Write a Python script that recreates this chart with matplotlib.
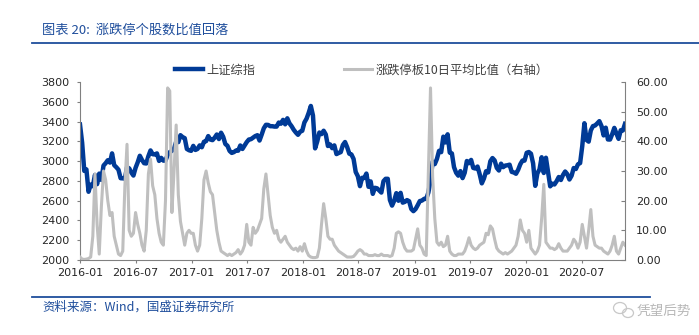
import matplotlib
matplotlib.use('Agg')
import matplotlib.pyplot as plt
import matplotlib.ticker as mticker
from matplotlib.lines import Line2D
from matplotlib.patches import Ellipse
import pandas as pd

plt.rcParams['font.family'] = ['DejaVu Sans']
CJK = ['Noto Sans CJK SC', 'DejaVu Sans']

BLUE = '#003A96'
GRAY = '#BFBFBF'
TBLUE = '#1F4E9C'

# weekly closes of the SSE Composite, one list per year
sse_2016 = [3370, 3186, 2901, 2916, 2690, 2763, 2746, 2860, 2767, 2874,
            2810, 2955, 2979, 3009, 2985, 3078, 2959, 2938, 2913, 2827,
            2826, 2822, 2938, 2927, 2885, 2854, 2932, 2988, 3054, 3012,
            2979, 2976, 3050, 3108, 3070, 3067, 3078, 3002, 3033, 3005,
            3005, 3063, 3091, 3104, 3125, 3196, 3192, 3262, 3243, 3232,
            3123, 3110, 3104]
sse_2017 = [3154, 3113, 3123, 3159, 3140, 3196, 3202, 3253, 3218, 3212,
            3237, 3269, 3223, 3287, 3246, 3173, 3155, 3103, 3083, 3091,
            3107, 3105, 3158, 3123, 3158, 3192, 3218, 3222, 3238, 3253,
            3262, 3208, 3268, 3332, 3367, 3366, 3353, 3353, 3349, 3349,
            3390, 3378, 3417, 3372, 3433, 3382, 3353, 3317, 3289, 3266,
            3297, 3307]
sse_2018 = [3391, 3429, 3488, 3558, 3462, 3129, 3199, 3289, 3273, 3307,
            3269, 3153, 3169, 3131, 3159, 3071, 3082, 3091, 3163, 3193,
            3141, 3075, 3067, 3022, 2890, 2847, 2747, 2831, 2829, 2874,
            2740, 2795, 2669, 2730, 2725, 2703, 2682, 2797, 2821, 2821,
            2607, 2550, 2599, 2676, 2599, 2679, 2580, 2588, 2606, 2594,
            2516, 2494]
sse_2019 = [2515, 2554, 2596, 2601, 2618, 2618, 2682, 2804, 2994, 2970,
            3022, 3104, 3091, 3247, 3189, 3271, 3086, 3078, 2939, 2882,
            2853, 2899, 2828, 2882, 3001, 2979, 3012, 2931, 2925, 2945,
            2868, 2775, 2824, 2898, 2886, 2999, 3031, 3007, 2932, 2905,
            2974, 2939, 2955, 2958, 2964, 2891, 2885, 2872, 2912, 2968,
            3005, 3005]
sse_2020 = [3084, 3092, 3075, 2977, 2750, 2876, 2917, 3039, 2880, 3034,
            2887, 2745, 2772, 2764, 2797, 2839, 2809, 2860, 2895, 2868,
            2814, 2852, 2930, 2920, 2968, 2980, 3152, 3383, 3214, 3197,
            3310, 3354, 3360, 3381, 3404, 3355, 3260, 3338, 3219, 3218,
            3272, 3336, 3278, 3225, 3312, 3310, 3377]

# limit-up / limit-down 10-day average ratio (right axis), same weeks
ratio_2016 = [1, 0.3, 0.2, 0.3, 0.5, 1, 8, 29, 12, 2,
              18, 30, 27, 20, 15, 16, 8, 5, 2, 1.5,
              3, 25, 39, 10, 8, 9, 16, 12, 9, 5,
              3, 10, 29, 34, 25, 22, 14, 9, 6, 5,
              20, 58, 57, 16, 30, 45.5, 22, 13, 9, 5,
              9, 10, 9]
ratio_2017 = [9, 5, 3, 5, 14, 27, 30, 26, 23, 22,
              16, 10, 6, 3, 2.5, 2, 1.5, 2, 1.5, 2,
              2.5, 3.5, 2, 3, 5, 12, 6, 5, 11, 9,
              10, 12, 14, 24, 29, 22, 15, 11, 9, 10,
              7, 6, 7, 8, 6, 5, 4, 3.5, 4, 3,
              4.5, 3]
ratio_2018 = [5.5, 3, 1.5, 1, 0.8, 0.8, 1, 4, 12, 19,
              14, 8, 7, 7, 5, 4, 3, 2.5, 2, 1.5,
              1, 1, 1, 1.2, 2, 3, 3.5, 3, 2, 2,
              1.5, 1.5, 1.5, 1.8, 1.5, 1.5, 2, 1.5, 1.5, 1.5,
              1.2, 1.5, 4, 9, 9.5, 9, 6, 4, 3, 3,
              3, 3.5]
ratio_2019 = [7, 10.5, 5, 4, 2, 1.5, 30, 58, 28, 14,
              6, 5, 6, 4.5, 5, 8, 3, 2, 1.5, 1.5,
              2, 2, 2, 3, 5, 7.5, 5, 4, 3.5, 4,
              5, 5.5, 6, 9, 8.5, 11.5, 10.5, 7, 4, 3,
              2.5, 2, 2.5, 2, 2.5, 3, 4, 5, 8, 13.5,
              10, 9]
ratio_2020 = [6, 10, 4, 3, 2, 3, 5, 14, 25.5, 6,
              5, 4, 4, 3.5, 4, 5.5, 4, 3, 3, 3,
              4, 5, 7, 6, 4, 6, 12, 8, 4, 10,
              17, 8, 5, 4.5, 4, 4, 3, 2.5, 2, 3,
              5, 8, 3, 2, 4, 6, 5]

tick_labels = ['2016-01', '2016-07', '2017-01', '2017-07', '2018-01',
               '2018-07', '2019-01', '2019-07', '2020-01', '2020-07']

sse = sse_2016 + sse_2017 + sse_2018 + sse_2019 + sse_2020
ratio = ratio_2016 + ratio_2017 + ratio_2018 + ratio_2019 + ratio_2020
dates = pd.date_range('2016-01-01', periods=len(sse), freq='7D')

fig = plt.figure(figsize=(6.99, 3.35), dpi=100)
ax = fig.add_axes([80 / 699, 1 - 260 / 335, 545 / 699, 178 / 335])
ax2 = ax.twinx()

l1, = ax.plot(dates, sse, color=BLUE, lw=3.2, label='上证综指')
l2, = ax2.plot(dates, ratio, color=GRAY, lw=2.2, label='涨跌停板10日平均比值（右轴）')

ax.set_xlim(dates[0], dates[-1])
ax.set_ylim(2000, 3800)
ax.set_yticks(range(2000, 3801, 200))
ax2.set_ylim(0, 60)
ax2.set_yticks(range(0, 61, 10))
ax2.yaxis.set_major_formatter(mticker.FormatStrFormatter('%.2f'))
ax.set_xticks(pd.to_datetime(tick_labels))
ax.set_xticklabels(tick_labels)

for a in (ax, ax2):
    a.spines['top'].set_visible(False)
    for s in a.spines.values():
        s.set_color('#808080')
        s.set_linewidth(0.8)
ax2.spines['left'].set_visible(False)
ax2.spines['bottom'].set_visible(False)
ax.spines['right'].set_visible(False)

ax.tick_params(axis='y', direction='out', length=2, width=0.8, color='#808080',
               labelsize=8, labelcolor='#262626', pad=6)
ax.tick_params(axis='x', direction='out', length=2, width=0.8, color='#808080',
               labelsize=8, labelcolor='#262626', pad=4)
ax2.tick_params(axis='y', direction='in', length=3, width=0.8, color='#808080',
                labelsize=8, labelcolor='#262626', pad=8)

leg = fig.legend(handles=[l1, l2], loc='center left',
                 bbox_to_anchor=(175 / 699, 1 - 70 / 335), ncol=2, frameon=False,
                 prop={'family': CJK, 'size': 8.8}, handlelength=2.3,
                 handletextpad=0.3, columnspacing=7.2, borderpad=0,
                 borderaxespad=0)
for t in leg.get_texts():
    t.set_color('#404040')

# header and footer
fig.text(42 / 699, 1 - 30 / 335, '图表 20:  涨跌停个股数比值回落', color=TBLUE,
         fontsize=9.5, family=CJK, va='center')
fig.add_artist(Line2D([32 / 699, 1.0], [1 - 43 / 335] * 2, color=TBLUE, lw=1.3))
fig.add_artist(Line2D([32 / 699, 650 / 699], [1 - 297 / 335] * 2, color=TBLUE, lw=1.3))
fig.text(42 / 699, 1 - 307 / 335, '资料来源：Wind，国盛证券研究所', color=TBLUE,
         fontsize=9, family=CJK, va='center')

# watermark
fig.add_artist(Ellipse((620 / 699, 1 - 308 / 335), 13 / 699, 11 / 335,
                       fill=False, ec='#C8C8C8', lw=0.9))
fig.add_artist(Ellipse((628 / 699, 1 - 313 / 335), 11 / 699, 9 / 335,
                       fill=False, ec='#C8C8C8', lw=0.9))
fig.text(637 / 699, 1 - 311 / 335, '凭望后势', color='#B8B8B8', fontsize=9.8,
         family=CJK, va='center')

fig.savefig('out.png', dpi=100)
